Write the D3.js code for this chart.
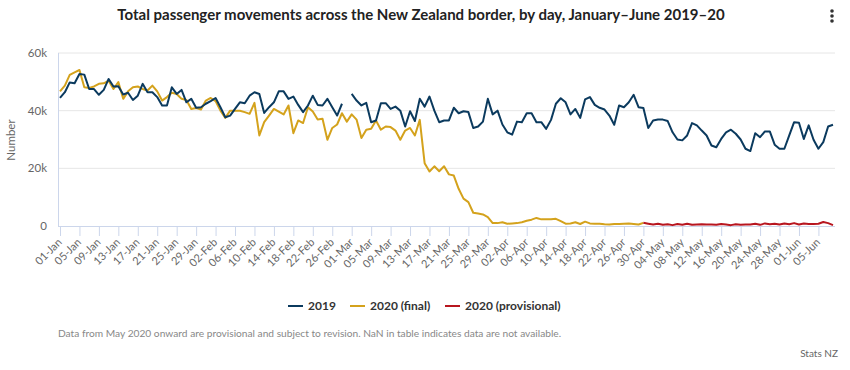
<!DOCTYPE html>
<html><head><meta charset="utf-8">
<script src="https://cdn.jsdelivr.net/npm/d3@7"></script>
<style>
body{margin:0;background:#fff;}
svg{display:block;font-family:Lato,"Open Sans",sans-serif;}
</style></head>
<body>
<svg id="c" width="850" height="370"></svg>
<script>
const title = "Total passenger movements across the New Zealand border, by day, January–June 2019–20";
const startDate = "2020-01-01";
const dayCount = 160;
const seriesNames = ["2019", "2020 (final)", "2020 (provisional)"];
const seriesColors = ["#0b3a5e", "#d4a21c", "#b8161f"];
const yTicks = [0, 20000, 40000, 60000];

const v2019 = [44.4,46.4,49.8,49.5,52.7,52.5,47.5,47.5,45.5,47.2,51.0,48.4,48.5,45.6,46.2,43.7,45.2,49.3,46.4,46.4,
44.7,41.8,41.8,48.1,45.8,47.2,42.9,44.1,41.0,41.2,42.4,43.3,44.4,41.2,37.7,38.3,40.6,42.9,42.6,45.2,
46.4,45.8,39.2,41.2,42.9,46.7,46.7,44.1,44.9,42.0,39.5,41.8,45.2,42.0,41.8,44.1,41.2,38.3,42.4,null,
45.8,43.5,41.8,42.7,36.0,36.6,42.6,42.6,40.6,41.4,40.0,34.5,39.8,36.4,44.1,41.4,44.9,40.0,36.0,36.6,
36.6,41.0,39.1,39.8,39.5,34.0,34.5,36.2,44.1,38.7,40.0,35.2,32.5,31.7,36.2,36.0,39.1,39.1,36.0,36.0,
33.7,36.8,42.4,44.3,42.9,38.7,40.6,37.5,43.9,44.7,42.0,41.0,40.4,38.3,35.1,41.8,41.2,42.9,45.5,41.2,
40.9,34.0,36.6,36.9,36.9,36.4,32.5,30.0,29.7,31.4,35.7,34.9,33.1,31.4,27.9,27.3,30.2,32.5,33.4,32.0,
30.0,26.8,26.0,32.2,30.8,32.8,32.8,28.2,26.8,26.8,31.4,36.0,35.8,30.2,34.9,29.9,26.8,29.1,34.5,35.1];

const v2020final = [46.7,48.7,52.4,53.3,54.1,48.1,47.9,48.4,49.3,49.5,50.4,47.5,49.9,44.1,46.7,48.1,48.4,47.5,47.0,48.7,
46.7,43.5,44.7,46.2,45.8,44.1,43.7,40.6,40.9,40.4,43.5,44.4,43.3,40.0,37.5,40.0,40.0,40.0,39.5,38.9,
42.7,31.4,36.0,38.3,40.6,39.7,38.7,41.8,32.2,36.6,35.7,41.2,39.7,36.9,37.2,29.9,34.0,35.2,39.1,36.2,
38.7,36.9,30.5,33.4,33.7,36.6,33.4,34.5,34.3,33.1,29.9,33.1,34.0,31.4,36.8,21.8,18.9,20.7,19.0,20.7,
17.9,17.5,12.9,9.5,8.3,4.6,4.3,4.0,3.1,1.0,1.0,1.3,0.8,0.9,1.0,1.3,1.8,2.2,2.8,2.3,
2.3,2.3,2.5,1.7,0.8,0.9,1.3,0.7,1.5,0.9,0.8,0.8,0.6,0.5,0.7,0.7,0.8,0.9,0.7,0.5,
1.1];

const v2020prov = [0.8,0.5,0.8,0.4,0.6,0.3,0.7,0.4,0.8,0.4,0.5,0.6,0.5,0.5,0.4,0.7,0.5,0.3,0.6,0.4,
0.5,0.5,0.8,0.4,0.9,0.6,0.8,0.5,0.9,0.6,1.0,0.5,0.9,0.7,0.7,0.8,1.4,1.0,0.3];
const provStart = 121; // 01-May

const parseDay = d3.timeParse("%Y-%m-%d");
const dates = d3.timeDay.range(parseDay(startDate), d3.timeDay.offset(parseDay(startDate), dayCount));
const fmt = d3.timeFormat("%d-%b");

const svg = d3.select("#c");
const pLeft = 58, pRight = 835, pTop = 53, pBottom = 226;
const x = d3.scalePoint().domain(d3.range(dayCount)).range([60, 833]);
const y = d3.scaleLinear().domain([0, 60000]).range([pBottom, pTop]);

// title
svg.append("text").attr("x", 421).attr("y", 20).attr("text-anchor", "middle")
  .attr("font-size", 15).attr("font-weight", 700).attr("fill", "#222").text(title);
// menu dots
[11, 16, 21].forEach(cy => svg.append("circle").attr("cx", 832).attr("cy", cy).attr("r", 1.8).attr("fill", "#333"));

// grid
svg.append("g").selectAll("line").data(yTicks.filter(d => d > 0)).join("line")
  .attr("x1", pLeft).attr("x2", pRight).attr("y1", d => y(d)).attr("y2", d => y(d))
  .attr("stroke", "#e6e6e6").attr("stroke-width", 1);
// y axis line
svg.append("line").attr("x1", pLeft + 0.5).attr("x2", pLeft + 0.5).attr("y1", pTop).attr("y2", pBottom)
  .attr("stroke", "#ccd6eb");
// y labels
svg.append("g").selectAll("text").data(yTicks).join("text")
  .attr("x", 47).attr("y", d => y(d) + 4).attr("text-anchor", "end")
  .attr("font-size", 11.5).attr("fill", "#666").text(d => d === 0 ? "0" : d3.format("~s")(d));
svg.append("text").attr("transform", "translate(15,140) rotate(-90)").attr("text-anchor", "middle")
  .attr("font-size", 11.5).attr("fill", "#666").text("Number");

// x axis
const xAxis = d3.axisBottom(x).tickValues(d3.range(0, dayCount, 4)).tickSize(10).tickSizeOuter(0)
  .tickFormat(i => fmt(dates[i]));
const gx = svg.append("g").attr("transform", `translate(0,${pBottom})`).call(xAxis);
gx.select(".domain").attr("stroke", "#ccd6eb").attr("d", `M${pLeft},0.5H${pRight}`);
gx.selectAll(".tick line").attr("stroke", "#ccd6eb");
gx.selectAll(".tick text").attr("font-size", 11).attr("fill", "#666").attr("font-family", "Lato, sans-serif")
  .attr("text-anchor", "end").attr("dy", 0).attr("y", 0)
  .attr("transform", "translate(2,17) rotate(-45)");

// lines
const line = d3.line().defined(d => d.v != null).x(d => x(d.i)).y(d => y(d.v * 1000));
const d2019 = v2019.map((v, i) => ({ i, v }));
const dFinal = v2020final.map((v, i) => ({ i, v }));
const dProv = [{ i: provStart - 1, v: v2020final[provStart - 1] }].concat(v2020prov.map((v, k) => ({ i: provStart + k, v })));
[[dFinal, 1], [dProv, 2], [d2019, 0]].forEach(([d, k]) => {
  svg.append("path").datum(d).attr("d", line).attr("fill", "none")
    .attr("stroke", seriesColors[k]).attr("stroke-width", 2).attr("stroke-linejoin", "round");
});

// legend
const legendX = [288, 350, 445];
const lg = svg.append("g");
seriesNames.forEach((n, k) => {
  lg.append("line").attr("x1", legendX[k]).attr("x2", legendX[k] + 15).attr("y1", 306).attr("y2", 306)
    .attr("stroke", seriesColors[k]).attr("stroke-width", 2);
  lg.append("text").attr("x", legendX[k] + 20).attr("y", 310).attr("font-size", 12).attr("font-weight", 700)
    .attr("fill", "#333").text(n);
});

svg.append("text").attr("x", 58).attr("y", 337).attr("font-size", 10.2).attr("fill", "#888")
  .text("Data from May 2020 onward are provisional and subject to revision. NaN in table indicates data are not available.");
svg.append("text").attr("x", 838).attr("y", 357).attr("text-anchor", "end").attr("font-size", 10).attr("fill", "#666")
  .text("Stats NZ");
</script>
</body></html>
